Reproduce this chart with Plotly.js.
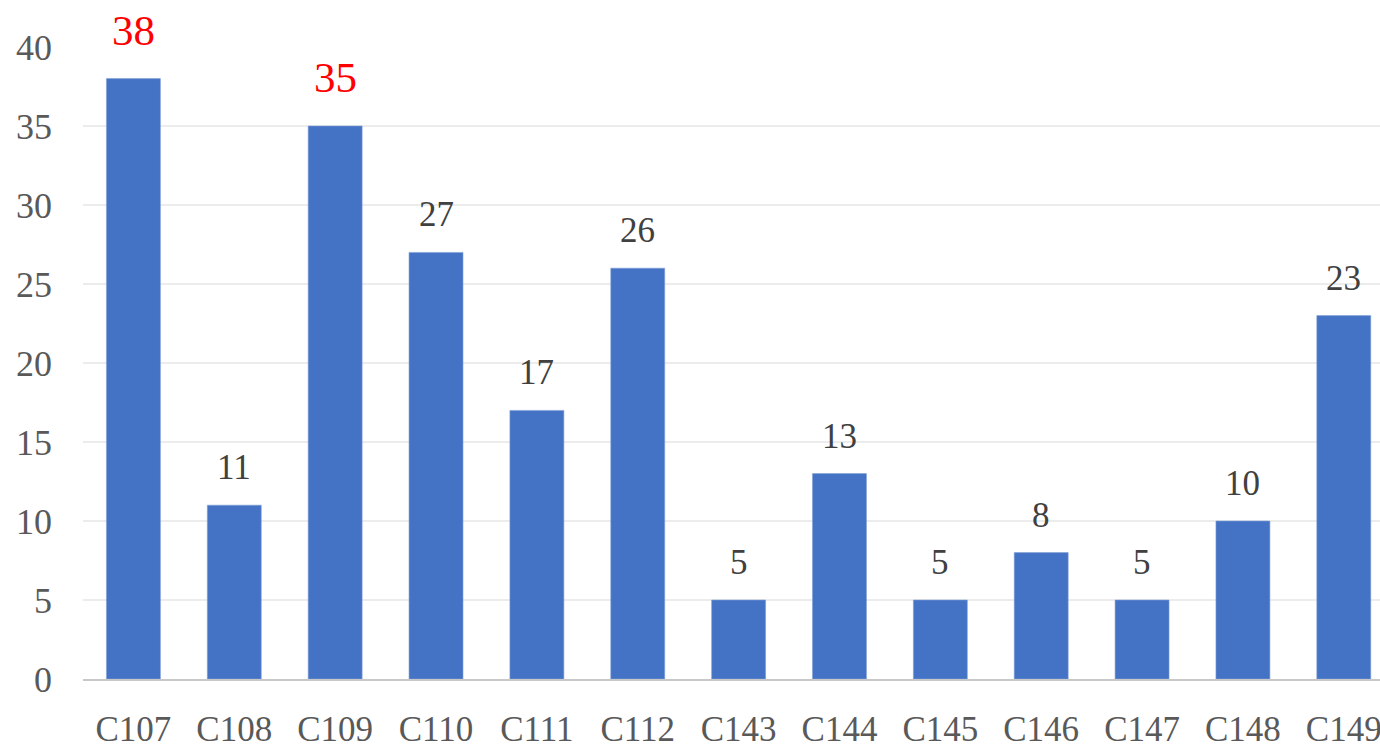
<!DOCTYPE html>
<html>
<head>
<meta charset="utf-8">
<script src="https://cdn.plot.ly/plotly-3.0.1.min.js"></script>
<style>html,body{margin:0;padding:0;background:#fff;}#chart{width:1380px;height:751px;}</style>
</head>
<body>
<div id="chart"></div>
<script>
const categories = ['C107','C108','C109','C110','C111','C112','C143','C144','C145','C146','C147','C148','C149'];
const values = [38, 11, 35, 27, 17, 26, 5, 13, 5, 8, 5, 10, 23];
const highlighted = ['C107', 'C109'];
const yTicks = [0, 5, 10, 15, 20, 25, 30, 35, 40];

const FONT = '"Liberation Serif", "Times New Roman", serif';

const annotations = categories.map((c, i) => {
  const hi = highlighted.includes(c);
  return {
    x: c, y: values[i], xref: 'x', yref: 'y',
    text: String(values[i]),
    showarrow: false,
    xanchor: 'center', yanchor: 'bottom',
    yshift: hi ? 23 : 16,
    font: {family: FONT, size: hi ? 43 : 35, color: hi ? '#FF0000' : '#404040'}
  };
});

const trace = {
  type: 'bar',
  x: categories,
  y: values,
  width: 0.535,
  marker: {color: '#4472C4', line: {color: '#7f9fd8', width: 0.6}},
  hoverinfo: 'x+y'
};

const layout = {
  width: 1380, height: 751,
  margin: {l: 83, r: 0, t: 47, b: 72, pad: 0},
  paper_bgcolor: '#fff', plot_bgcolor: '#fff',
  showlegend: false,
  xaxis: {
    type: 'category',
    range: [-0.5, 12.359],
    showgrid: false,
    showline: true, linecolor: '#c8c8c8', linewidth: 1.5,
    ticks: '', ticklabelstandoff: 18,
    tickfont: {family: FONT, size: 35, color: '#595959'},
    zeroline: false, fixedrange: true
  },
  yaxis: {
    range: [0, 40],
    tickvals: yTicks,
    ticktext: yTicks.map(String),
    showgrid: true, gridcolor: '#ececec', gridwidth: 1.2,
    zeroline: false, showline: false,
    ticks: '', ticklabelstandoff: 30,
    tickfont: {family: FONT, size: 36, color: '#595959'},
    fixedrange: true
  },
  annotations: annotations
};

Plotly.newPlot('chart', [trace], layout, {displayModeBar: false, staticPlot: true});
</script>
</body>
</html>
